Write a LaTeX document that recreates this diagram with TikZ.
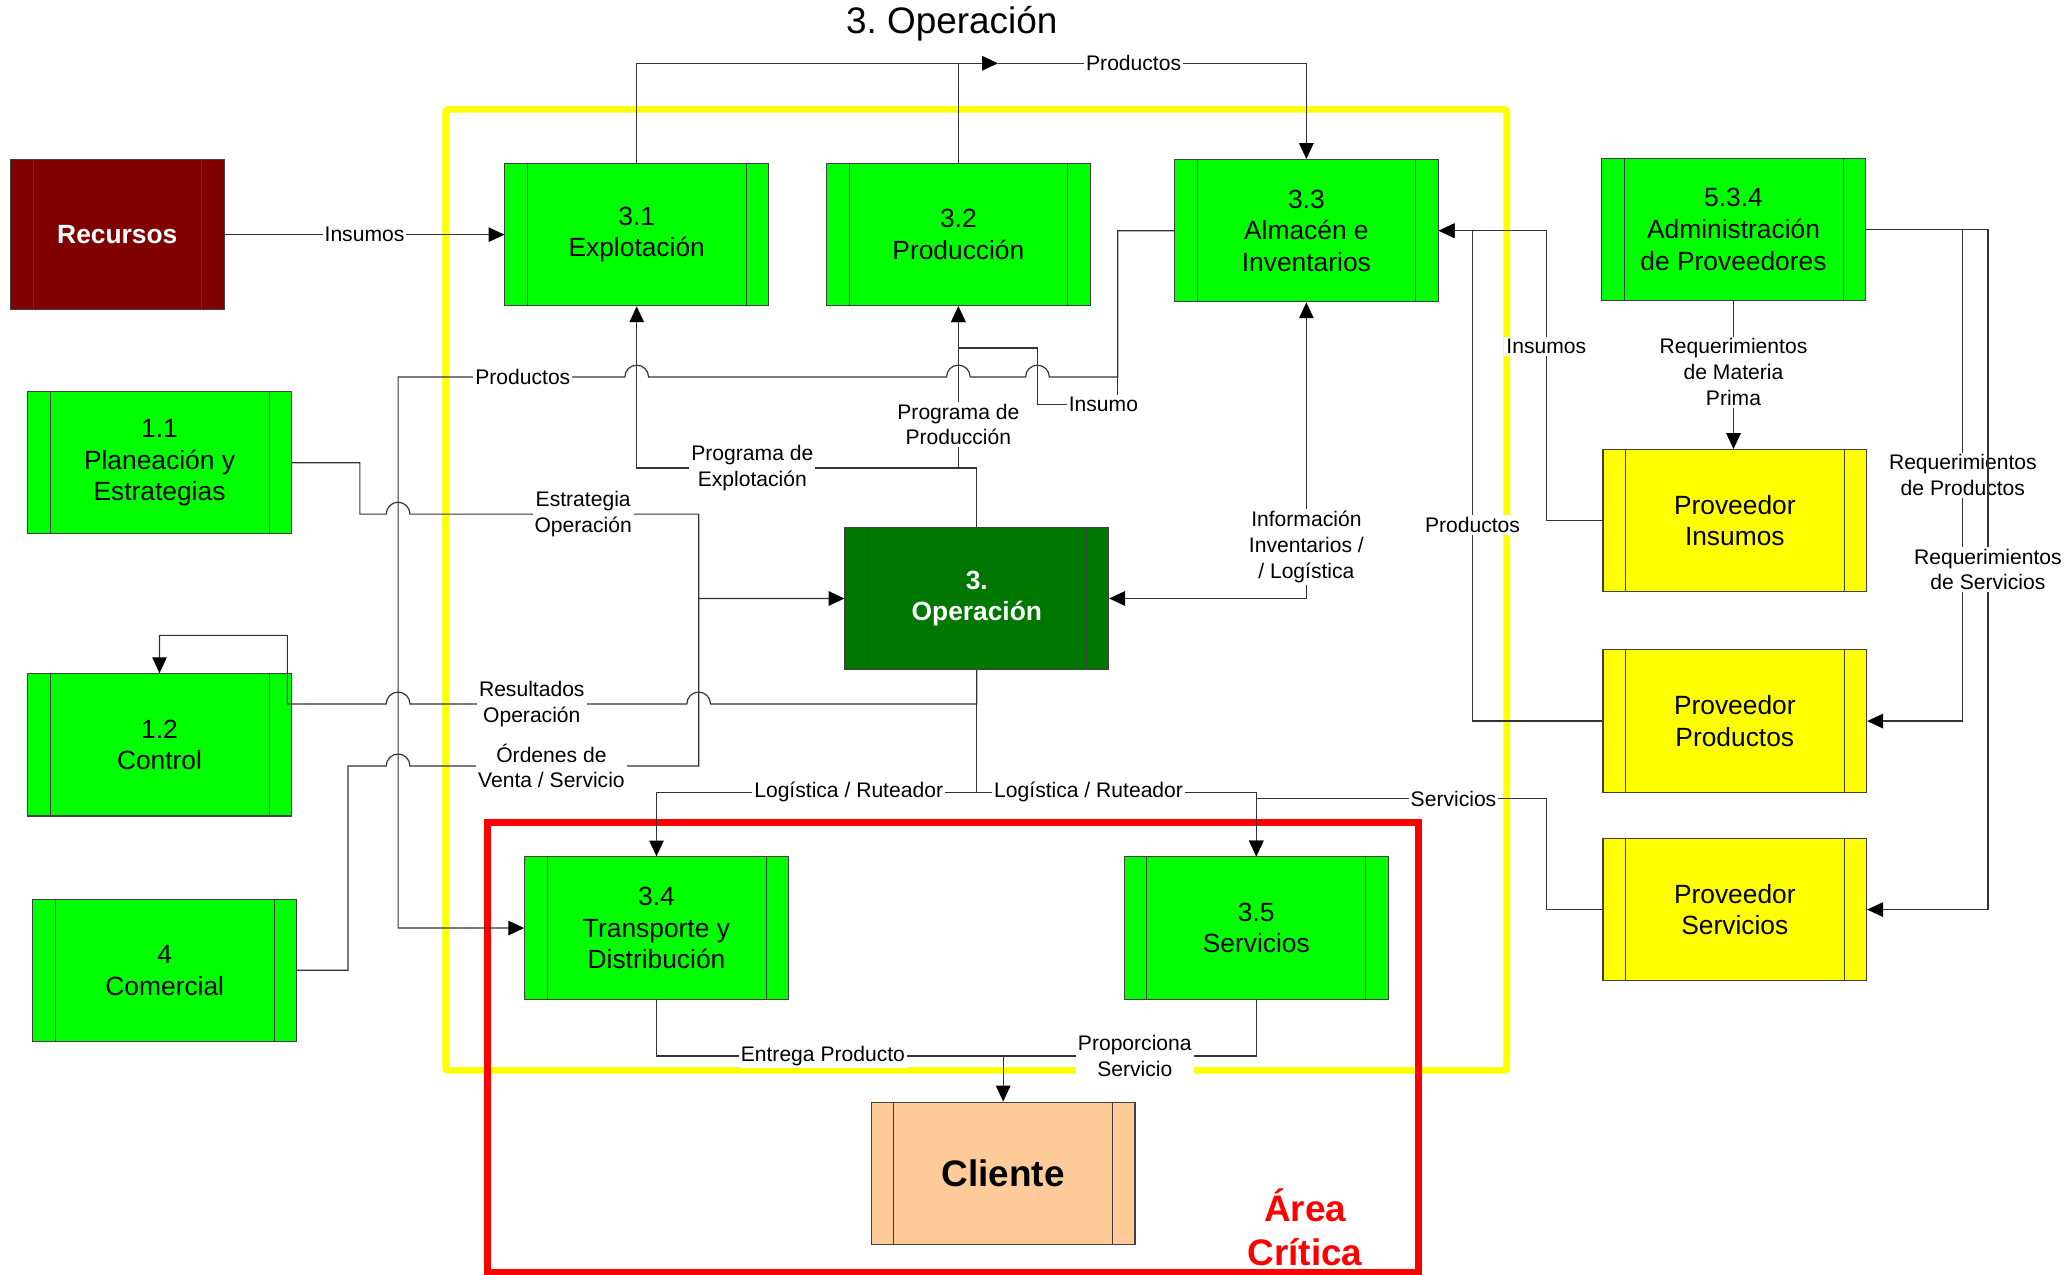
\documentclass[tikz,border=0pt]{standalone}
\usepackage{fontspec}
\setmainfont{Liberation Sans}
\usetikzlibrary{arrows.meta}

\definecolor{procgreen}{RGB}{0,255,0}
\definecolor{opgreen}{RGB}{0,119,0}
\definecolor{recred}{RGB}{128,0,0}
\definecolor{provyellow}{RGB}{255,255,0}
\definecolor{clipeach}{RGB}{255,204,153}

\newcommand{\boxfont}{\fontsize{20}{24}\selectfont}
\newcommand{\lblfont}{\fontsize{16}{19.5}\selectfont}
\newcommand{\ttlfont}{\fontsize{28}{33}\selectfont}
\newcommand{\bigbfont}{\fontsize{28}{33}\selectfont\bfseries}

\tikzset{
  proc/.style={draw=black!75, line width=0.8pt, fill=procgreen,
    minimum width=200pt, minimum height=108pt, inner sep=0pt,
    align=center, font=\boxfont,
    path picture={
      \draw[black!75, line width=0.6pt]
        ([xshift=17pt]path picture bounding box.north west) -- ([xshift=17pt]path picture bounding box.south west)
        ([xshift=-17pt]path picture bounding box.north east) -- ([xshift=-17pt]path picture bounding box.south east);
    }},
  prov/.style={proc, fill=provyellow},
  conn/.style={draw=black!80, line width=0.9pt},
  connarr/.style={conn, -{Triangle[length=12pt,width=11pt,color=black]}},
  connboth/.style={conn, {Triangle[length=12pt,width=11pt,color=black]}-{Triangle[length=12pt,width=11pt,color=black]}},
  lbl/.style={fill=white, inner sep=1.5pt, align=center, font=\lblfont}
}

\begin{document}
\begin{tikzpicture}[x=1pt, y=-1pt]
  \useasboundingbox (0,0) rectangle (1568,967);

  % areas
  \draw[provyellow, line width=5pt, rounded corners=2pt] (338,83) rectangle (1143,812);
  \draw[red, line width=5pt] (370,624) rectangle (1076,965);
  \node[font=\ttlfont] (title) at (722,18) {3.\ Operación};
  \node[font=\bigbfont, text=red, align=center] (critica) at (990,931) {Área\\Crítica};

  % boxes
  \node[proc, fill=recred, text=white, font=\boxfont\bfseries,
        minimum width=162pt, minimum height=114pt] (rec) at (89,178) {Recursos};
  \node[proc] (p31) at (483,178) {3.1\\Explotación};
  \node[proc] (p32) at (727,178) {3.2\\Producción};
  \node[proc] (p33) at (991,175) {3.3\\Almacén e\\Inventarios};
  \node[proc] (p534) at (1315,174) {5.3.4\\Administración\\de Proveedores};
  \node[proc] (p11) at (121,351) {1.1\\Planeación y\\Estrategias};
  \node[proc, fill=opgreen, text=white, font=\boxfont\bfseries] (op) at (741,454) {3.\\Operación};
  \node[prov] (pins) at (1316,395) {Proveedor\\Insumos};
  \node[proc] (p12) at (121,565) {1.2\\Control};
  \node[prov] (pprod) at (1316,547) {Proveedor\\Productos};
  \node[proc] (p4) at (125,736) {4\\Comercial};
  \node[proc] (p34) at (498,704) {3.4\\Transporte y\\Distribución};
  \node[proc] (p35) at (953,704) {3.5\\Servicios};
  \node[prov] (pserv) at (1316,690) {Proveedor\\Servicios};
  \node[proc, fill=clipeach, font=\bigbfont] (cli) at (761,890) {Cliente};

  % top loop
  \coordinate (topjoin) at (757,48);
  \draw[connarr] (p31.north) |- (topjoin);
  \draw[conn] (p32.north) -- (p32.north |- topjoin);
  \draw[connarr] (topjoin) -| node[lbl,pos=0.22]{Productos} (p33.north);

  \draw[connarr] (rec) -- node[lbl]{Insumos} (p31);

  % productos to 3.4, with hops
  \draw[connarr] (p33.west) -| (848,286) -- (796,286)
    arc[start angle=0, end angle=-180, radius=9] -- (736,286)
    arc[start angle=0, end angle=-180, radius=9] -- (492,286)
    arc[start angle=0, end angle=-180, radius=9] -- node[lbl,pos=0.45]{Productos} (302,286)
    -- (302,704) -- (p34.west);
  \draw[connarr] (p33.west) -| (848,307) -- node[lbl,pos=0.18]{Insumo} (787,307)
    -- (787,264) -| (p32.south);

  % programas
  \coordinate (pe) at (741,355);
  \draw[connarr] (op.north) -- (pe) -| node[lbl,pos=0.33]{Programa de\\Explotación} (p31.south);
  \draw[connarr] (p32.south |- pe) -- node[lbl,pos=0.27]{Programa de\\Producción} (p32.south);

  % left side
  \draw[connarr] (p11.east) -- (273,351) -- (273,390) -- (293,390)
    arc[start angle=180, end angle=360, radius=9]
    -- node[lbl,pos=0.6]{Estrategia\\Operación} (530,390) |- (op.west);
  \draw[conn] (p4.east) -- (264,736) -- (264,581) -- (293,581)
    arc[start angle=180, end angle=360, radius=9]
    -- node[lbl,pos=0.49]{Órdenes de\\Venta / Servicio} (530,581) -- (530,454);
  \draw[connarr] (op.south) -- (741,534) -- (539,534)
    arc[start angle=0, end angle=-180, radius=9]
    -- node[lbl,pos=0.56]{Resultados\\Operación} (311,534)
    arc[start angle=0, end angle=-180, radius=9]
    -- (218,534) -- (218,482) -| (p12.north);

  % logistica
  \coordinate (lr) at (741,601);
  \draw[conn] (op.south) -- (lr);
  \draw[connarr] (lr) -| node[lbl,pos=0.2]{Logística / Ruteador} (p34.north);
  \draw[connarr] (lr) -| node[lbl,pos=0.2]{Logística / Ruteador} (p35.north);
  \draw[connarr] (pserv.west) -- (1173,690) |- node[lbl,pos=0.66]{Servicios} (953,606) -- (p35.north);

  % cliente
  \coordinate (cj) at (761,801);
  \draw[conn] (p34.south) |- node[lbl,pos=0.74]{Entrega Producto} (cj);
  \draw[conn] (p35.south) |- node[lbl,pos=0.74]{Proporciona\\Servicio} (cj);
  \draw[connarr] (cj) -- (cli);

  % almacen
  \draw[connboth] (op.east) -| node[lbl,pos=0.587]{Información\\Inventarios /\\/ Logística} (p33.south);
  \draw[connarr] (pins.west) -- (1173,395) |- node[lbl,pos=0.3]{Insumos} (p33.east);
  \draw[connarr] (pprod.west) -- (1117,547) |- node[lbl,pos=0.2]{Productos} (p33.east);

  % proveedores
  \draw[connarr] (p534.south) -- node[lbl,pos=0.48]{Requerimientos\\de Materia\\Prima} (p534.south |- pins.north);
  \draw[connarr] (p534.east) -- (1489,174) |- node[lbl,pos=0.25]{Requerimientos\\de Productos} (pprod.east);
  \draw[connarr] (p534.east) -- (1508,174) |- node[lbl,pos=0.25]{Requerimientos\\de Servicios} (pserv.east);
\end{tikzpicture}
\end{document}
